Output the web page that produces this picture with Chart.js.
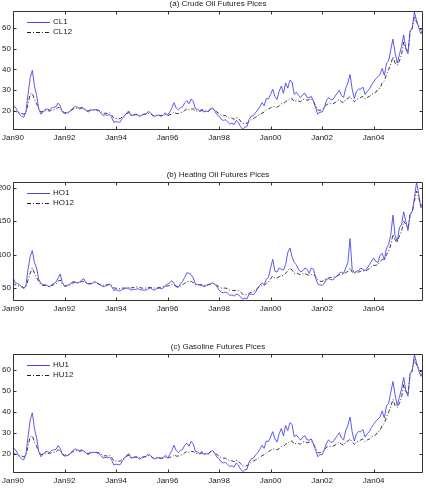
<!DOCTYPE html>
<html><head><meta charset="utf-8">
<script src="https://cdn.jsdelivr.net/npm/chart.js@4/dist/chart.umd.min.js"></script>
<style>
body{margin:0;background:#fff;width:426px;height:504px;position:relative;overflow:hidden}
.p{position:absolute;left:0;width:426px;height:161px}
canvas{display:block}
</style></head><body>
<div class="p" style="top:0"><canvas id="c1" width="426" height="161"></canvas></div>
<div class="p" style="top:171px"><canvas id="c2" width="426" height="161"></canvas></div>
<div class="p" style="top:343px"><canvas id="c3" width="426" height="161"></canvas></div>
<script>
// monthly observations, Jan 1990 .. Dec 2005
const startYear = 1990;
const xTickYears = [1990, 1992, 1994, 1996, 1998, 2000, 2002, 2004];
const titles = ["(a) Crude Oil Futures Pices", "(b) Heating Oil Futures Pices", "(c) Gasoline Futures Pices"];
const yTicksA = [20, 30, 40, 50, 60];
const yTicksB = [50, 100, 150, 200];
const yTicksC = [20, 30, 40, 50, 60];

const CL1 = [
 22.7,22.0,20.3,18.5,17.5,17.0,19.5,28.0,36.0,39.5,32.0,27.5,
 21.0,18.5,19.5,20.8,21.0,20.5,21.5,21.8,22.0,23.8,22.5,19.5,
 18.8,19.0,19.3,20.5,21.5,22.3,21.8,21.4,21.8,21.2,20.3,19.5,
 20.3,20.5,20.6,20.4,20.0,19.0,17.8,18.2,18.0,18.3,16.8,14.5,
 15.0,14.6,14.8,16.5,17.8,19.2,20.0,17.8,18.0,18.2,18.1,17.3,
 18.0,18.5,18.6,19.8,19.2,18.0,17.4,17.9,18.0,17.5,18.0,19.2,
 18.0,19.5,21.5,24.0,21.5,20.5,21.5,22.0,24.0,25.0,23.5,25.8,
 24.5,21.0,20.8,20.0,21.0,19.5,20.0,19.7,21.0,21.5,20.0,18.3,
 17.5,16.0,15.5,15.8,14.8,13.8,14.2,13.5,15.5,14.5,12.5,11.3,
 12.3,12.5,16.0,17.5,17.8,19.3,20.5,22.0,24.0,22.5,26.0,25.8,
 28.0,30.5,27.0,25.5,29.5,32.0,28.5,33.5,31.0,34.8,34.0,28.0,
 29.0,27.5,26.5,28.0,28.5,26.5,26.5,27.0,24.5,21.5,18.5,19.5,
 19.5,21.5,25.0,26.5,25.5,25.5,27.0,28.5,30.0,27.5,26.5,31.0,
 33.5,37.5,30.5,26.0,29.5,30.5,30.5,31.5,28.0,29.5,30.5,32.5,
 34.0,35.5,36.5,37.5,40.5,37.0,43.0,44.0,49.5,54.5,48.0,43.0,
 47.0,51.0,56.5,50.0,47.5,58.5,60.0,67.5,63.5,60.0,57.0,59.5];
const CL12 = [
 20.0,19.8,19.5,19.0,18.8,18.5,19.2,23.5,28.0,28.5,25.5,23.5,
 21.0,19.5,19.8,20.2,20.3,20.0,20.5,20.6,20.8,21.8,21.5,19.8,
 19.2,19.4,19.6,20.2,21.0,21.5,21.3,21.0,21.4,21.0,20.5,20.0,
 20.5,20.6,20.7,20.6,20.3,19.8,18.8,19.0,18.8,19.2,18.0,16.5,
 16.5,16.3,16.4,17.3,18.0,18.8,19.2,18.0,18.2,18.4,18.4,18.0,
 18.2,18.4,18.5,19.0,18.8,18.0,17.6,18.0,18.0,17.8,17.9,18.3,
 17.8,18.2,18.5,19.5,18.8,18.8,19.3,19.5,20.3,21.0,20.5,21.0,
 21.0,20.0,20.0,19.8,20.3,19.8,20.0,20.0,20.8,21.0,20.5,19.5,
 18.8,18.0,17.8,17.8,17.0,16.5,16.6,16.0,16.8,16.5,15.2,14.0,
 14.0,14.2,15.0,16.0,16.5,17.0,17.5,18.3,19.0,19.5,20.5,21.0,
 21.5,22.3,22.0,21.8,22.5,23.5,23.5,24.5,25.0,26.0,26.0,24.5,
 25.0,24.8,24.5,25.5,25.8,25.2,25.5,25.8,24.5,22.5,20.5,20.3,
 21.0,21.8,23.0,23.5,23.5,23.5,24.0,24.8,25.5,24.5,24.0,25.5,
 26.0,27.0,25.5,24.5,25.5,26.0,26.5,27.0,25.8,26.5,27.0,28.0,
 28.5,29.0,30.5,31.0,33.5,34.5,37.5,40.0,42.5,46.0,43.0,42.0,
 44.0,47.0,53.0,50.0,48.5,58.0,59.5,65.5,62.5,61.0,59.0,61.0];
const HO1 = [
 66,58,57,55,52,49,53,78,97,106,88,80,
 63,57,55,55,54,52,55,57,59,65,71,58,
 53,54,55,57,60,59,58,59,62,64,58,56,
 56,57,60,58,56,54,52,53,54,56,52,46,
 48,46,46,48,49,50,49,47,48,48,49,48,
 47,47,47,49,50,48,47,49,50,49,50,54,
 56,58,61,57,52,51,56,60,66,73,72,70,
 65,56,55,55,54,52,54,55,56,58,56,52,
 47,44,43,44,42,39,40,38,41,40,37,33,
 35,34,41,41,40,44,50,54,58,55,63,66,
 80,93,75,74,80,78,77,85,103,110,97,88,
 85,78,74,76,80,78,72,80,78,65,56,55,
 54,57,63,64,63,62,66,68,72,74,72,80,
 88,124,78,73,75,76,80,78,76,80,85,90,
 95,90,88,99,102,92,110,115,130,159,128,120,
 140,145,164,150,136,160,165,185,208,190,170,173];
const HO12 = [
 58,55,54,53,52,51,52,62,72,80,72,66,
 60,55,54,54,53,52,54,55,56,60,62,56,
 53,53,54,56,58,58,57,58,60,60,58,57,
 57,57,58,57,56,55,54,55,55,56,54,50,
 50,49,49,50,50,51,51,50,51,51,52,51,
 50,50,50,51,51,50,50,50,51,51,52,53,
 53,54,55,54,53,52,53,55,57,60,60,60,
 58,55,55,55,55,54,54,55,56,57,56,54,
 52,50,50,50,49,47,47,46,47,46,44,41,
 40,40,42,44,45,47,50,52,54,54,57,59,
 64,68,65,65,67,68,69,72,76,80,77,72,
 73,71,70,71,72,70,69,70,70,67,62,60,
 60,62,64,65,66,66,67,68,70,71,71,73,
 75,80,74,72,73,74,75,76,75,77,79,82,
 84,84,85,89,93,92,100,105,115,130,122,118,
 128,135,150,145,140,160,163,180,195,185,172,177];
const HU1 = [
 22.7,22.0,20.3,18.5,17.5,17.0,19.5,28.0,36.0,39.5,32.0,27.5,
 21.0,18.5,19.5,20.8,21.0,20.5,21.5,21.8,22.0,23.8,22.5,19.5,
 18.8,19.0,19.3,20.5,21.5,22.3,21.8,21.4,21.8,21.2,20.3,19.5,
 20.3,20.5,20.6,20.4,20.0,19.0,17.8,18.2,18.0,18.3,16.8,14.5,
 15.0,14.6,14.8,16.5,17.8,19.2,20.0,17.8,18.0,18.2,18.1,17.3,
 18.0,18.5,18.6,19.8,19.2,18.0,17.4,17.9,18.0,17.5,18.0,19.2,
 18.0,19.5,21.5,24.0,21.5,20.5,21.5,22.0,24.0,25.0,23.5,25.8,
 24.5,21.0,20.8,20.0,21.0,19.5,20.0,19.7,21.0,21.5,20.0,18.3,
 17.5,16.0,15.5,15.8,14.8,13.8,14.2,13.5,15.5,14.5,12.5,11.3,
 12.3,12.5,16.0,17.5,17.8,19.3,20.5,22.0,24.0,22.5,26.0,25.8,
 28.0,30.5,27.0,25.5,29.5,32.0,28.5,33.5,31.0,34.8,34.0,28.0,
 29.0,27.5,26.5,28.0,28.5,26.5,26.5,27.0,24.5,21.5,18.5,19.5,
 19.5,21.5,25.0,26.5,25.5,25.5,27.0,28.5,30.0,27.5,26.5,31.0,
 33.5,37.5,30.5,26.0,29.5,30.5,30.5,31.5,28.0,29.5,30.5,32.5,
 34.0,35.5,36.5,37.5,40.5,37.0,43.0,44.0,49.5,54.5,48.0,43.0,
 47.0,51.0,56.5,50.0,47.5,58.5,60.0,67.5,63.5,60.0,57.0,59.5];
const HU12 = [
 20.0,19.8,19.5,19.0,18.8,18.5,19.2,23.5,28.0,28.5,25.5,23.5,
 21.0,19.5,19.8,20.2,20.3,20.0,20.5,20.6,20.8,21.8,21.5,19.8,
 19.2,19.4,19.6,20.2,21.0,21.5,21.3,21.0,21.4,21.0,20.5,20.0,
 20.5,20.6,20.7,20.6,20.3,19.8,18.8,19.0,18.8,19.2,18.0,16.5,
 16.5,16.3,16.4,17.3,18.0,18.8,19.2,18.0,18.2,18.4,18.4,18.0,
 18.2,18.4,18.5,19.0,18.8,18.0,17.6,18.0,18.0,17.8,17.9,18.3,
 17.8,18.2,18.5,19.5,18.8,18.8,19.3,19.5,20.3,21.0,20.5,21.0,
 21.0,20.0,20.0,19.8,20.3,19.8,20.0,20.0,20.8,21.0,20.5,19.5,
 18.8,18.0,17.8,17.8,17.0,16.5,16.6,16.0,16.8,16.5,15.2,14.0,
 14.0,14.2,15.0,16.0,16.5,17.0,17.5,18.3,19.0,19.5,20.5,21.0,
 21.5,22.3,22.0,21.8,22.5,23.5,23.5,24.5,25.0,26.0,26.0,24.5,
 25.0,24.8,24.5,25.5,25.8,25.2,25.5,25.8,24.5,22.5,20.5,20.3,
 21.0,21.8,23.0,23.5,23.5,23.5,24.0,24.8,25.5,24.5,24.0,25.5,
 26.0,27.0,25.5,24.5,25.5,26.0,26.5,27.0,25.8,26.5,27.0,28.0,
 28.5,29.0,30.5,31.0,33.5,34.5,37.5,40.0,42.5,46.0,43.0,42.0,
 44.0,47.0,53.0,50.0,48.5,58.0,59.5,65.5,62.5,61.0,59.0,61.0];

const FONT = "'Liberation Sans', Arial, Helvetica, sans-serif";
const BLUE = 'rgb(72,72,235)';
const DARK = '#222';

function pts(arr){ return arr.map((v,i)=>({x: startYear + i/12, y: v})); }

const framePlugin = {
  id: 'frame',
  afterDraw(chart, args, opts){
    const ctx = chart.ctx, a = chart.chartArea;
    const xs = chart.scales.x, ys = chart.scales.y;
    ctx.save();
    ctx.strokeStyle = '#333';
    ctx.lineWidth = 1;
    const L = Math.round(a.left)+0.5, R = Math.round(a.right)-0.5;
    const T = Math.round(a.top)+0.5, B = Math.round(a.bottom)-0.5;
    ctx.beginPath(); ctx.rect(L, T, R-L, B-T); ctx.stroke();
    ctx.beginPath();
    xs.ticks.forEach(t=>{ const px = Math.round(xs.getPixelForValue(t.value))+0.5;
      ctx.moveTo(px,B); ctx.lineTo(px,B-3); ctx.moveTo(px,T); ctx.lineTo(px,T+3); });
    ys.ticks.forEach(t=>{ const py = Math.round(ys.getPixelForValue(t.value))+0.5;
      ctx.moveTo(L,py); ctx.lineTo(L+3,py); ctx.moveTo(R,py); ctx.lineTo(R-3,py); });
    ctx.stroke();
    // title
    ctx.fillStyle = DARK;
    ctx.font = '8px ' + FONT;
    ctx.textAlign = 'center'; ctx.textBaseline = 'middle';
    ctx.fillText(opts.text, (a.left + a.right)/2, a.top - 7);
    // legend
    ctx.textAlign = 'left';
    chart.data.datasets.forEach((ds,i)=>{
      const y = a.top + 10.5 + i*10.7;
      ctx.save();
      ctx.strokeStyle = ds.borderColor; ctx.lineWidth = 1;
      ctx.setLineDash(ds.borderDash || []);
      ctx.beginPath(); ctx.moveTo(a.left+14, Math.round(y)+0.5); ctx.lineTo(a.left+37, Math.round(y)+0.5); ctx.stroke();
      ctx.restore();
      ctx.fillStyle = DARK;
      ctx.fillText(ds.label, a.left+40, y);
    });
    ctx.restore();
  }
};

function make(id, title, s1, s2, l1, l2, ymin, ymax, yticks){
  return new Chart(document.getElementById(id), {
    type: 'line',
    data: { datasets: [
      {label: l1, data: pts(s1), borderColor: BLUE, borderWidth: 0.9, pointRadius: 0, tension: 0, order: 1},
      {label: l2, data: pts(s2), borderColor: DARK, borderWidth: 0.9, borderDash: [4,2,1,2], pointRadius: 0, tension: 0, order: 2}
    ]},
    options: {
      responsive: false, animation: false, devicePixelRatio: 1,
      layout: { padding: { top: 11, right: 3, left: 0, bottom: 0 } },
      plugins: { legend: {display: false}, tooltip: {enabled: false}, title: {display: false}, frame: {text: title} },
      scales: {
        x: { type: 'linear', min: startYear, max: startYear + (s1.length-1)/12,
          grid: {display: false, drawTicks: false}, border: {display: false},
          afterBuildTicks: s => { s.ticks = xTickYears.map(v=>({value: v})); },
          afterFit: s => { s.height = 31; s.paddingLeft = 0; s.paddingRight = 0; },
          ticks: { font: {family: FONT, size: 8}, color: DARK, padding: 3, maxRotation: 0, autoSkip: false,
            callback: v => 'Jan' + String(v % 100).padStart(2,'0') } },
        y: { min: ymin, max: ymax,
          grid: {display: false, drawTicks: false}, border: {display: false},
          afterBuildTicks: s => { s.ticks = yticks.map(v=>({value: v})); },
          afterFit: s => { s.width = 13; s.paddingTop = 0; s.paddingBottom = 0; },
          ticks: { font: {family: FONT, size: 8}, color: DARK, padding: 2, autoSkip: false } }
      }
    },
    plugins: [framePlugin]
  });
}

make('c1', titles[0], CL1, CL12, 'CL1', 'CL12', 10.9, 68, yTicksA);
make('c2', titles[1], HO1, HO12, 'HO1', 'HO12', 30.7, 208.5, yTicksB);
make('c3', titles[2], HU1, HU12, 'HU1', 'HU12', 10.7, 67.7, yTicksC);
</script>
</body></html>
